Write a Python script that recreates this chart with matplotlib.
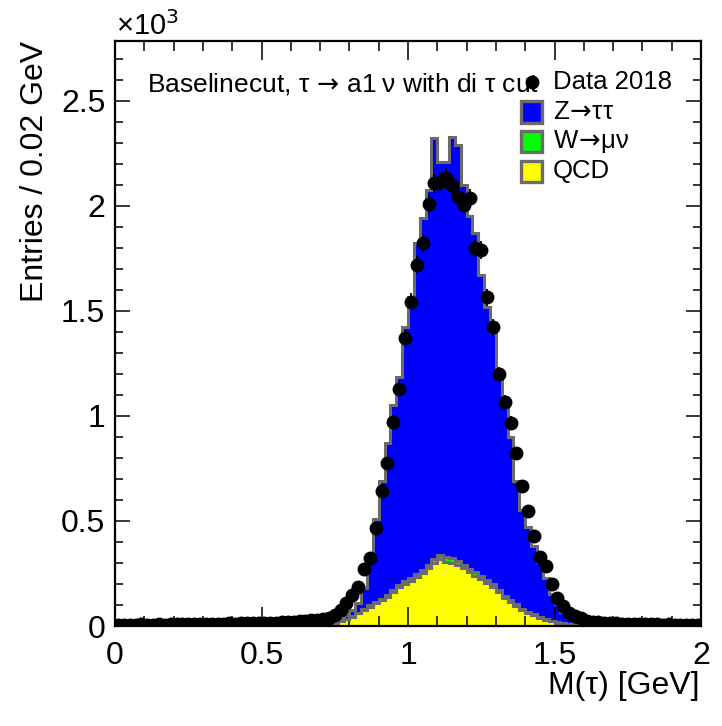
import numpy as np
import matplotlib
matplotlib.use("Agg")
import matplotlib.pyplot as plt
from matplotlib.patches import Rectangle
from matplotlib.lines import Line2D
from matplotlib.ticker import MultipleLocator, FuncFormatter

plt.rcParams['font.family'] = ['Liberation Sans', 'DejaVu Sans']
plt.rcParams['mathtext.fontset'] = 'dejavusans'

# ---- binning: 100 bins of 0.02 GeV between 0 and 2 GeV ----
bin_edges = np.linspace(0.0, 2.0, 101)

# ---- data (entries per bin) ----
data_2018 = [
    6, 5, 7, 6, 8, 6, 7, 8, 7, 8,
    9, 8, 9, 8, 10, 9, 10, 11, 10, 12,
    11, 12, 13, 12, 14, 13, 15, 16, 17, 18,
    20, 22, 24, 27, 30, 33, 38, 52, 76, 110,
    148, 188, 270, 325, 465, 643, 778, 973, 1130, 1370,
    1544, 1719, 1825, 2010, 2108, 2116, 2132, 2100, 2044, 2005,
    2036, 1800, 1790, 1565, 1422, 1200, 1068, 968, 822, 667,
    548, 429, 328, 288, 202, 135, 96, 62, 48, 36,
    24, 20, 17, 15, 13, 12, 11, 10, 10, 9,
    9, 8, 8, 7, 8, 7, 6, 7, 6, 6,
]

# ---- simulated backgrounds (entries per bin) ----
qcd = [0] * 33 + [
    2, 4, 6, 9, 14, 22, 32,
    45, 60, 75, 92, 108, 122, 140, 160, 185, 200,
    215, 235, 252, 275, 300, 318, 305, 300, 292, 275,
    255, 240, 222, 205, 188, 160, 135, 115, 95, 75,
    62, 50, 40, 30, 22, 15, 10, 7, 4, 3,
    2, 1, 1,
] + [0] * 17

w_munu = [0] * 36 + [
    1, 1, 2, 2,
    3, 4, 5, 6, 7, 8, 9, 10, 11, 12,
    13, 14, 15, 16, 18, 22, 24, 22, 19, 17,
    16, 15, 14, 13, 12, 11, 10, 9, 8, 7,
    6, 5, 4, 3, 3, 2, 2, 1, 1, 1,
] + [0] * 20

z_tautau = [0] * 33 + [
    0, 0, 1, 2, 5, 8, 16,
    27, 46, 100, 212, 395, 560, 721, 880, 991, 1213,
    1340, 1573, 1674, 1785, 2006, 1869, 1882, 2005, 1980, 1808,
    1679, 1615, 1435, 1302, 1200, 1039, 915, 776, 587, 470,
    402, 325, 261, 197, 125, 88, 53, 30, 17, 8,
    5, 3, 1,
] + [0] * 17

ARROW_TIGHT = "$\\!\\rightarrow\\!$"
title_text = "Baselinecut, \u03c4 " + ARROW_TIGHT + " a1\u2009\u03bd with di \u03c4 cut"
legend_labels = ["Data 2018", "Z" + ARROW_TIGHT + "\u03c4\u03c4",
                 "W" + ARROW_TIGHT + "\u03bc\u03bd", "QCD"]

c_z, c_w, c_qcd = "#0000ff", "#00ff00", "#ffff00"
c_edge = "#6b6b6b"

W_PX, H_PX = 722, 726
fig = plt.figure(figsize=(W_PX / 100, H_PX / 100), dpi=100)


def fx(px):
    return px / W_PX


def fy(py):
    return 1 - py / H_PX


ax_l, ax_r, ax_t, ax_b = 115, 701, 41, 626
ax = fig.add_axes([fx(ax_l), fy(ax_b), fx(ax_r) - fx(ax_l), fy(ax_t) - fy(ax_b)])

q = np.array(qcd, float)
w = np.array(w_munu, float)
z = np.array(z_tautau, float)
stack_levels = [(q + w + z, c_z), (q + w, c_w), (q, c_qcd)]
for vals, col in stack_levels:
    ax.stairs(vals, bin_edges, fill=True, color=col, zorder=2)
    ax.stairs(vals, bin_edges, baseline=0, fill=False, color=c_edge,
              linewidth=2.2, zorder=3)

d = np.array(data_2018, float)
centers = 0.5 * (bin_edges[:-1] + bin_edges[1:])
ax.errorbar(centers, d, yerr=np.sqrt(d), fmt='o', color='black',
            markersize=9, elinewidth=1.3, capsize=0, zorder=5)

ax.set_xlim(0, 2)
ax.set_ylim(0, 2785)

ax.xaxis.set_major_locator(MultipleLocator(0.5))
ax.xaxis.set_minor_locator(MultipleLocator(0.1))
ax.yaxis.set_major_locator(MultipleLocator(500))
ax.yaxis.set_minor_locator(MultipleLocator(100))
ax.xaxis.set_major_formatter(FuncFormatter(lambda v, p: f"{v:g}"))
ax.yaxis.set_major_formatter(FuncFormatter(lambda v, p: f"{v / 1000:g}"))
ax.tick_params(which='both', direction='in', top=True, right=True,
               labelsize=23, width=1.1)
ax.tick_params(axis='x', which='both', pad=11)
ax.tick_params(axis='y', which='both', pad=7)
ax.tick_params(axis='x', which='major', length=13.5)
ax.tick_params(axis='x', which='minor', length=7)
ax.tick_params(axis='y', which='major', length=11)
ax.tick_params(axis='y', which='minor', length=5.8)
for s in ax.spines.values():
    s.set_linewidth(1.6)
    s.set_zorder(10)
ax.set_axisbelow(False)

fig.text(fx(116), fy(26), "\u00d710$^{3}$", fontsize=21, ha='left', va='center')
fig.text(fx(35), fy(41), "Entries / 0.02 GeV", fontsize=23, rotation=90,
         ha='center', va='top')
fig.text(fx(700), fy(686), "M(\u03c4) [GeV]", fontsize=23, ha='right', va='center')

# header line and legend
fig.text(fx(147), fy(84), title_text, fontsize=19, ha='left', va='center')

leg_x, txt_x = 531.5, 553
leg_y = [82, 112, 141.5, 171]
fig.add_artist(Line2D([fx(leg_x)], [fy(leg_y[0])], marker='o', color='black',
                      markersize=9, transform=fig.transFigure))
for yy, col in zip(leg_y[1:], [c_z, c_w, c_qcd]):
    fig.add_artist(Rectangle((fx(leg_x - 10.5), fy(yy + 10.5)), fx(21), 21 / H_PX,
                             facecolor=col, edgecolor=c_edge, linewidth=2.4,
                             transform=fig.transFigure))
for lbl, yy in zip(legend_labels, leg_y):
    fig.text(fx(txt_x), fy(yy), lbl, fontsize=18.5, ha='left', va='center')

fig.savefig("out.png", dpi=100)
